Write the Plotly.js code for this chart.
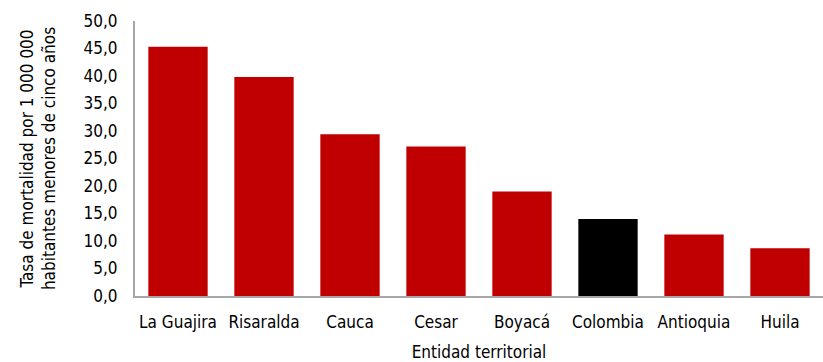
<!DOCTYPE html>
<html>
<head>
<meta charset="utf-8">
<script src="https://cdn.plot.ly/plotly-3.0.1.min.js"></script>
<style>html,body{margin:0;padding:0;background:#fff;}#chart{width:823px;height:362px;}</style>
</head>
<body>
<div id="chart"></div>
<script>
// Mortality rate per 1 000 000 children under five, by territorial entity
const entidades = ["La Guajira", "Risaralda", "Cauca", "Cesar", "Boyacá", "Colombia", "Antioquia", "Huila"];
const tasas = [45.3, 39.8, 29.4, 27.2, 19.0, 14.0, 11.2, 8.7];
const colores = ["#c00000", "#c00000", "#c00000", "#c00000", "#c00000", "#000000", "#c00000", "#c00000"];

const fuente = "'DejaVu Sans Condensed', 'Liberation Sans Narrow', 'Arial Narrow', sans-serif";

Plotly.newPlot("chart", [{
  type: "bar",
  x: entidades,
  y: tasas,
  marker: {color: colores},
  width: 0.69,
  hoverinfo: "x+y"
}], {
  width: 823, height: 362,
  margin: {l: 135, r: 0, t: 21, b: 66},
  paper_bgcolor: "#fff", plot_bgcolor: "#fff",
  separators: ",.",
  font: {family: fuente, size: 17, color: "#000"},
  xaxis: {
    showline: true, linecolor: "#a6a6a6", linewidth: 2,
    ticks: "", showgrid: false,
    tickfont: {size: 17},
    ticklabelstandoff: 10,
    automargin: false,
    title: {text: "Entidad territorial", font: {size: 17}, standoff: 17}
  },
  yaxis: {
    range: [0, 50], dtick: 5, tickformat: ".1f",
    showline: true, linecolor: "#a6a6a6", linewidth: 2,
    ticks: "", showgrid: false, zeroline: false,
    tickfont: {size: 17},
    ticklabelstandoff: 12,
    automargin: false,
    title: {text: "Tasa de mortalidad por 1 000 000<br>habitantes menores de cinco años", font: {size: 17}, standoff: 24}
  },
  showlegend: false
}, {displayModeBar: false, staticPlot: true});
</script>
</body>
</html>
